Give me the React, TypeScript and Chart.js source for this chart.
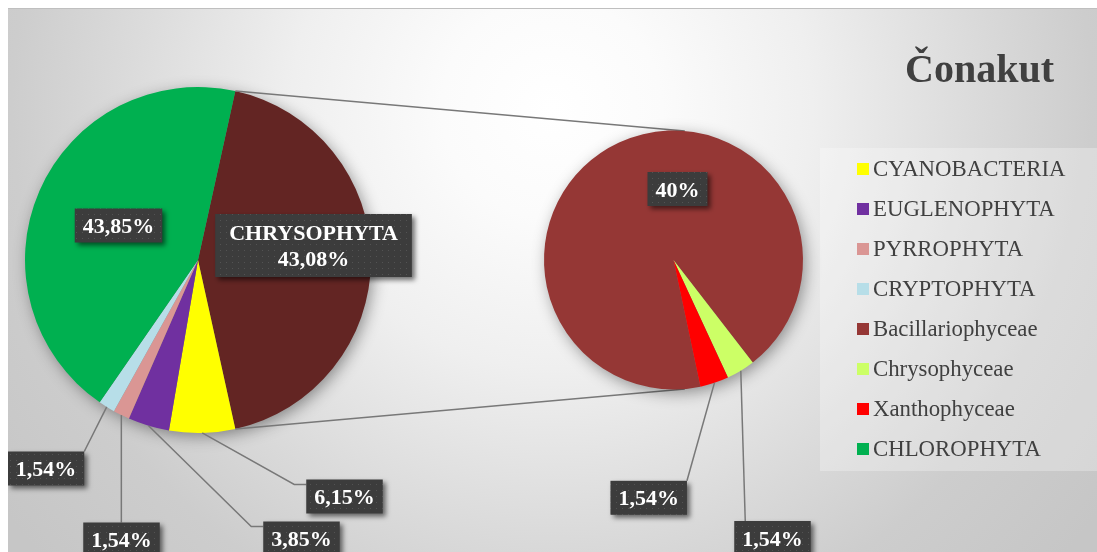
import React, { useEffect, useRef } from "react";
import { Chart, registerables } from "chart.js";

Chart.register(...registerables);

// ---------------- DATA ----------------
const chartTitle = "Čonakut";
const primaryCategories = ["CYANOBACTERIA", "EUGLENOPHYTA", "PYRROPHYTA", "CRYPTOPHYTA", "CHLOROPHYTA"];
const primaryValues = [6.15, 3.85, 1.54, 1.54, 43.85];
const primaryColors = ["#FFFF00", "#7030A0", "#DA9694", "#B7DEE8", "#00B050"];
const otherCategory = "CHRYSOPHYTA";
const otherColor = "#632523";
const secondaryCategories = ["Bacillariophyceae", "Chrysophyceae", "Xanthophyceae"];
const secondaryValues = [40, 1.54, 1.54];
const secondaryColors = ["#953735", "#CCFF66", "#FF0000"];
const legendCategories = [
  "CYANOBACTERIA",
  "EUGLENOPHYTA",
  "PYRROPHYTA",
  "CRYPTOPHYTA",
  "Bacillariophyceae",
  "Chrysophyceae",
  "Xanthophyceae",
  "CHLOROPHYTA",
];

// ---------------- LAYOUT ----------------
const W = 1089;
const H = 544;
const MAIN_PIE = { cx: 190, cy: 252, r: 173 };
const SEC_PIE = { cx: 665.5, cy: 252, r: 129.5 };
const SEC_ROTATION = 168;
const CONNECTOR_SHIFT_DEG = 5;

type Leader = "elbowLeft" | "vertical" | "topRight" | "topLeftIn";
type Placement = { dx: number; dy: number; leader?: Leader; padX?: number; withName?: boolean };

// label box centre offsets relative to pie centre (index-aligned with chart data)
const mainPlacements: Placement[] = [
  { dx: 115.5, dy: -14.5, padX: 14, withName: true },
  { dx: 146.5, dy: 236.5, leader: "elbowLeft" },
  { dx: 103.5, dy: 278.5, leader: "elbowLeft" },
  { dx: -76.5, dy: 279.5, leader: "vertical" },
  { dx: -152, dy: 208.5, leader: "topRight" },
  { dx: -79.5, dy: -34.5 },
];
const secPlacements: Placement[] = [
  { dx: 4, dy: -71 },
  { dx: 99, dy: 278, leader: "topLeftIn" },
  { dx: -24.8, dy: 237.8, leader: "topRight" },
];

const LABEL_FONT = 'bold 22px "Liberation Serif", "Times New Roman", serif';
const LINE_COLOR = "#787878";

const fmtPct = (v: number) => Number(v.toFixed(2)).toString().replace(".", ",") + "%";

function paddingFor(p: { cx: number; cy: number; r: number }) {
  return { left: p.cx - p.r, top: p.cy - p.r, right: W - p.cx - p.r, bottom: H - p.cy - p.r };
}

function boxPattern(ctx: CanvasRenderingContext2D) {
  const c = document.createElement("canvas");
  c.width = 6;
  c.height = 6;
  const g = c.getContext("2d")!;
  g.fillStyle = "#3c3c3c";
  g.fillRect(0, 0, 6, 6);
  g.fillStyle = "#535353";
  g.fillRect(2, 2, 1, 1);
  return ctx.createPattern(c, "repeat") || "#3c3c3c";
}

function drawPieShadow(chart: any) {
  const arc = chart.getDatasetMeta(0).data[0] as any;
  if (!arc) return;
  const ctx: CanvasRenderingContext2D = chart.ctx;
  ctx.save();
  ctx.shadowColor = "rgba(0,0,0,0.42)";
  ctx.shadowBlur = 16;
  ctx.shadowOffsetX = 3;
  ctx.shadowOffsetY = 4;
  ctx.fillStyle = "#777";
  ctx.beginPath();
  ctx.arc(arc.x, arc.y, arc.outerRadius - 1, 0, Math.PI * 2);
  ctx.fill();
  ctx.restore();
}

function drawLabels(chart: any, placements: Placement[], names: string[]) {
  const ctx: CanvasRenderingContext2D = chart.ctx;
  const meta = chart.getDatasetMeta(0);
  const values: number[] = chart.data.datasets[0].data as number[];
  const pattern = boxPattern(ctx);
  ctx.save();
  ctx.font = LABEL_FONT;
  meta.data.forEach((arc: any, i: number) => {
    const p = placements[i];
    if (!p) return;
    const lines = p.withName ? [names[i], fmtPct(values[i])] : [fmtPct(values[i])];
    const { x, y, startAngle, endAngle, outerRadius } = arc;
    const tw = Math.max(...lines.map((l) => ctx.measureText(l).width));
    const padX = p.padX ?? 8;
    const bw = tw + padX * 2;
    const bh = lines.length > 1 ? 63 : 34;
    const bcx = x + p.dx;
    const bcy = y + p.dy;
    const left = bcx - bw / 2;
    const top = bcy - bh / 2;
    const right = left + bw;

    if (p.leader) {
      const mid = (startAngle + endAngle) / 2;
      const sx = x + outerRadius * Math.cos(mid);
      const sy = y + outerRadius * Math.sin(mid);
      const pts: [number, number][] = [[sx, sy]];
      if (p.leader === "elbowLeft") pts.push([left - 12, top + 5], [left, top + 5]);
      else if (p.leader === "vertical") pts.push([sx, top]);
      else if (p.leader === "topRight") pts.push([right, top]);
      else if (p.leader === "topLeftIn") pts.push([left + 11, top]);
      ctx.save();
      ctx.strokeStyle = LINE_COLOR;
      ctx.lineWidth = 1.5;
      ctx.beginPath();
      ctx.moveTo(pts[0][0], pts[0][1]);
      for (let k = 1; k < pts.length; k++) ctx.lineTo(pts[k][0], pts[k][1]);
      ctx.stroke();
      ctx.restore();
    }

    ctx.save();
    ctx.shadowColor = "rgba(0,0,0,0.55)";
    ctx.shadowBlur = 5;
    ctx.shadowOffsetX = 3;
    ctx.shadowOffsetY = 3;
    ctx.fillStyle = pattern as any;
    ctx.fillRect(left, top, bw, bh);
    ctx.restore();

    ctx.fillStyle = "#ffffff";
    ctx.textAlign = "center";
    ctx.textBaseline = "alphabetic";
    lines.forEach((l, k) => {
      ctx.fillText(l, bcx, bcy + (k - (lines.length - 1) / 2) * 26.5 + 7.5);
    });
  });
  ctx.restore();
}

export default function App() {
  const mainRef = useRef<HTMLCanvasElement | null>(null);
  const secRef = useRef<HTMLCanvasElement | null>(null);

  useEffect(() => {
    if (!mainRef.current || !secRef.current) return;
    const otherTotal = secondaryValues.reduce((a, b) => a + b, 0);
    const mainData = [otherTotal, ...primaryValues];
    const mainTotal = mainData.reduce((a, b) => a + b, 0);
    const mainNames = [otherCategory, ...primaryCategories];

    const main = new Chart(mainRef.current, {
      type: "pie",
      data: {
        labels: mainNames,
        datasets: [
          {
            data: mainData,
            backgroundColor: [otherColor, ...primaryColors],
            borderWidth: 0,
            hoverOffset: 0,
          } as any,
        ],
      },
      options: {
        responsive: false,
        animation: false,
        events: [],
        rotation: 90 - (otherTotal / mainTotal) * 180,
        layout: { padding: paddingFor(MAIN_PIE) },
        plugins: { legend: { display: false }, tooltip: { enabled: false }, title: { display: false } },
      } as any,
      plugins: [
        {
          id: "mainDecor",
          beforeDatasetsDraw: (chart: any) => drawPieShadow(chart),
          afterDatasetsDraw: (chart: any) => drawLabels(chart, mainPlacements, mainNames),
        },
      ],
    });

    const sec = new Chart(secRef.current, {
      type: "pie",
      data: {
        labels: secondaryCategories,
        datasets: [
          {
            data: secondaryValues,
            backgroundColor: secondaryColors,
            borderWidth: 0,
            hoverOffset: 0,
          } as any,
        ],
      },
      options: {
        responsive: false,
        animation: false,
        events: [],
        rotation: SEC_ROTATION,
        layout: { padding: paddingFor(SEC_PIE) },
        plugins: { legend: { display: false }, tooltip: { enabled: false }, title: { display: false } },
      } as any,
      plugins: [
        {
          id: "secDecor",
          beforeDatasetsDraw: (chart: any) => {
            const mArc = main.getDatasetMeta(0).data[0] as any;
            const sArc = chart.getDatasetMeta(0).data[0] as any;
            if (mArc && sArc) {
              const ctx: CanvasRenderingContext2D = chart.ctx;
              const R = mArc.outerRadius;
              const r = sArc.outerRadius;
              const d = (CONNECTOR_SHIFT_DEG * Math.PI) / 180;
              const p1 = [mArc.x + R * Math.cos(mArc.startAngle), mArc.y + R * Math.sin(mArc.startAngle)];
              const p2 = [mArc.x + R * Math.cos(mArc.endAngle), mArc.y + R * Math.sin(mArc.endAngle)];
              const q1 = [sArc.x + r * Math.sin(d), sArc.y - r * Math.cos(d)];
              const q2 = [sArc.x + r * Math.sin(d), sArc.y + r * Math.cos(d)];
              ctx.save();
              ctx.strokeStyle = LINE_COLOR;
              ctx.lineWidth = 1.5;
              ctx.beginPath();
              ctx.moveTo(p1[0], p1[1]);
              ctx.lineTo(q1[0], q1[1]);
              ctx.moveTo(p2[0], p2[1]);
              ctx.lineTo(q2[0], q2[1]);
              ctx.stroke();
              ctx.restore();
            }
            drawPieShadow(chart);
          },
          afterDatasetsDraw: (chart: any) => drawLabels(chart, secPlacements, secondaryCategories),
        },
      ],
    });

    return () => {
      sec.destroy();
      main.destroy();
    };
  }, []);

  const colorOf = (name: string) => {
    const pi = primaryCategories.indexOf(name);
    if (pi >= 0) return primaryColors[pi];
    const si = secondaryCategories.indexOf(name);
    return si >= 0 ? secondaryColors[si] : otherColor;
  };

  return (
    <div
      style={{
        position: "fixed",
        left: 8,
        top: 8,
        width: W,
        height: H,
        overflow: "hidden",
        background:
          "radial-gradient(circle at 544px 100px, #ffffff 0px, #fbfbfb 110px, #efefef 260px, #dadada 430px, #cdcdcd 540px, #c6c6c6 680px)",
        boxShadow: "inset 0 1px 0 #bfbfbf",
      }}
    >
      <canvas ref={mainRef} width={W} height={H} style={{ position: "absolute", left: 0, top: 0, width: W, height: H }} />
      <canvas ref={secRef} width={W} height={H} style={{ position: "absolute", left: 0, top: 0, width: W, height: H }} />
      <div
        style={{
          position: "absolute",
          left: 897,
          top: 41,
          font: 'bold 40px "Liberation Serif", "Times New Roman", serif',
          lineHeight: "40px",
          color: "#404040",
          whiteSpace: "nowrap",
        }}
      >
        {chartTitle}
      </div>
      <div
        style={{
          position: "absolute",
          left: 812,
          top: 140,
          width: 277,
          height: 323,
          background: "rgba(255,255,255,0.28)",
        }}
      >
        {legendCategories.map((name, i) => (
          <div
            key={name}
            style={{
              position: "absolute",
              left: 37,
              top: 7.7 + 40 * i,
              height: 26,
              display: "flex",
              alignItems: "center",
              whiteSpace: "nowrap",
            }}
          >
            <span style={{ display: "inline-block", width: 12, height: 12, background: colorOf(name), marginRight: 4 }} />
            <span
              style={{
                font: '22.8px "Liberation Serif", "Times New Roman", serif',
                lineHeight: "26px",
                color: "#404040",
              }}
            >
              {name}
            </span>
          </div>
        ))}
      </div>
    </div>
  );
}
